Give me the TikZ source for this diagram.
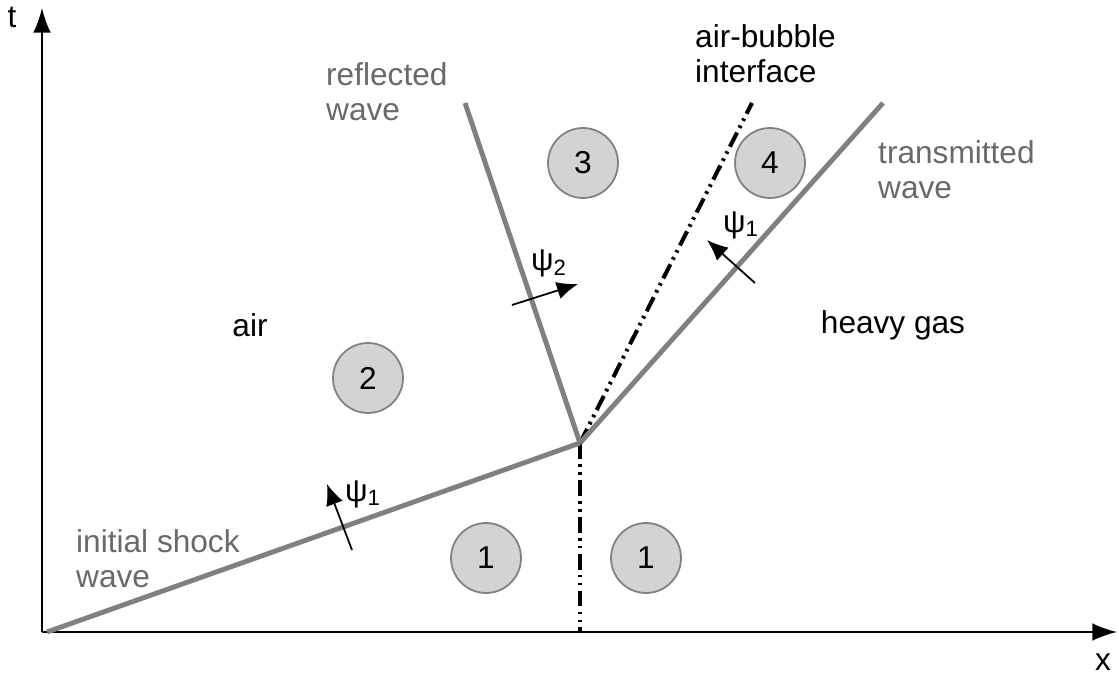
\documentclass[tikz,border=0pt]{standalone}
\usepackage{fontspec}
\setmainfont{Liberation Sans}
\usetikzlibrary{arrows.meta, positioning}

\definecolor{wavegray}{RGB}{128,128,128}
\definecolor{textgray}{RGB}{105,105,105}
\definecolor{statefill}{RGB}{211,211,211}

\begin{document}
\begin{tikzpicture}[x=0.02cm, y=-0.02cm,
    every node/.style = {font=\fontsize{18}{20}\selectfont},
    state/.style = {draw=wavegray, fill=statefill, circle, line width=1pt, minimum size=1.4cm, inner sep=0pt},
    wave/.style = {wavegray, line width=2.8pt},
    contact/.style = {black, line width=2.3pt, dash pattern=on 9pt off 3pt on 1.5pt off 3pt on 1.5pt off 3pt},
    label/.style = {align=left, anchor=west, text=textgray},
    dir/.style = {-{Latex[length=12pt, width=10pt]}, line width=1pt}]
        \useasboundingbox (0,0) rectangle (1119,679);
        % axes
        \coordinate (o) at (42,632);
        \coordinate (ttop) at (42,8);
        \coordinate (xend) at (1117,632);
        \draw[-{Latex[length=14pt, width=10pt]}, line width=1pt] (o) -- (ttop);
        \draw[-{Latex[length=14pt, width=10pt]}, line width=1pt] (o) -- (xend);
        \node (t) at (12,17) {t};
        \node (x) at (1103,662) {x};
        % wave pattern
        \coordinate (s) at (47,632);
        \coordinate (m) at (580,443);
        \coordinate (r) at (465,103);
        \coordinate (i) at (752,103);
        \coordinate (tr) at (883,103);
        \coordinate (b) at (580,632);
        \draw[contact] (m) -- (i);
        \draw[contact] (m) -- (b);
        \draw[wave] (s) -- (m);
        \draw[wave] (m) -- (r);
        \draw[wave] (m) -- (tr);
        % states
        \node[state] (s1a) at (486,558) {1};
        \node[state] (s1b) at (646,558) {1};
        \node[state] (s2) at (368,378) {2};
        \node[state] (s3) at (583,163) {3};
        \node[state] (s4) at (770,163) {4};
        % labels
        \node (air) at (250,325) {air};
        \node (gas) at (893,325) {heavy gas};
        \node[label] (rlab) at (320,92) {reflected\\wave};
        \node[label, text=black] (ilab) at (689,54) {air-bubble\\interface};
        \node[label] (tlab) at (872,170) {transmitted\\wave};
        \node[label] (slab) at (70,559) {initial shock\\wave};
        % propagation directions
        \coordinate (p2a) at (512,305);
        \coordinate (p2b) at (578,284);
        \draw[dir] (p2a) -- (p2b);
        \node (psi2) at (549,263) {ψ\textsubscript{2}};
        \coordinate (p1a) at (755,283);
        \coordinate (p1b) at (707,240);
        \draw[dir] (p1a) -- (p1b);
        \node (psi1t) at (741,225) {ψ\textsubscript{1}};
        \coordinate (q1a) at (352,550);
        \coordinate (q1b) at (327,484);
        \draw[dir] (q1a) -- (q1b);
        \node (psi1s) at (363,494) {ψ\textsubscript{1}};
\end{tikzpicture}
\end{document}
